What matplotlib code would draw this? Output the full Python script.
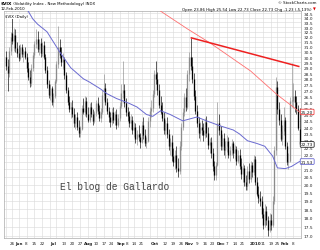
import matplotlib
matplotlib.use("Agg")
import matplotlib.pyplot as plt
import matplotlib.transforms as mtransforms
from matplotlib.ticker import FixedLocator, NullLocator
import numpy as np
import pandas as pd

# ---------------- data ----------------
holidays = ["2009-05-25", "2009-07-03", "2009-09-07", "2009-11-26",
            "2009-12-25", "2010-01-01", "2010-01-18"]
dates = pd.bdate_range("2009-05-19", "2010-02-12")
dates = dates[~dates.isin(pd.to_datetime(holidays))]

opens = [
    30.0, 29.2, 28.5, 30.6, 32.4, 31.6, 32.2, 30.9, 30.4, 29.9,
    31.0, 30.3, 30.6, 30.0, 29.0, 28.2, 27.6, 29.0, 30.2, 31.3,
    31.8, 30.8, 31.4, 30.4, 31.2, 30.0, 28.8, 27.5, 26.6, 27.2,
    26.0, 26.5, 27.8, 29.3, 31.0, 30.2, 29.5, 29.8, 28.3, 27.0,
    26.0, 25.4, 25.6, 25.0, 24.3, 24.8, 24.0, 23.6, 23.9, 25.5,
    25.2, 26.1, 25.0, 24.6, 25.6, 25.0, 24.5, 25.1, 25.9, 25.3,
    24.7, 25.2, 26.6, 27.2, 26.0, 25.3, 24.8, 24.4, 25.2, 24.6,
    25.0, 24.2, 24.7, 25.7, 26.8, 27.0, 25.9, 25.2, 24.9, 24.3,
    24.6, 23.8, 24.0, 23.1, 23.5, 23.3, 22.9, 24.2, 23.4, 22.8,
    23.0, 24.5, 25.3, 25.5, 26.7, 28.4, 28.0, 27.0, 25.8, 25.2,
    24.7, 23.8, 24.3, 23.5, 22.6, 22.9, 21.9, 21.5, 22.0, 21.1,
    20.9, 22.6, 24.0, 25.2, 26.4, 25.6, 28.4, 30.0, 29.2, 28.0,
    26.5, 25.3, 24.3, 23.6, 24.0, 23.8, 23.4, 24.4, 23.6, 22.7,
    22.9, 22.1, 21.2, 20.6, 21.3, 24.3, 23.8, 22.6, 23.2, 22.3,
    22.6, 23.0, 22.0, 22.3, 22.8, 22.1, 22.4, 21.6, 22.0, 21.2,
    20.7, 21.1, 20.2, 19.9, 20.9, 20.4, 21.3, 20.8, 21.7, 20.2,
    19.4, 19.2, 19.0, 18.2, 17.6, 18.4, 17.9, 17.3, 17.9, 17.6,
    19.0, 22.3, 27.3, 25.4, 24.6, 23.1, 23.7, 24.6, 22.6, 21.5,
    21.6, 26.1, 26.1, 26.5, 26.0, 25.4, 23.86,
]
highs = [
    30.6, 29.8, 31.0, 32.5, 34.3, 32.9, 32.8, 31.5, 31.2, 31.3,
    31.3, 30.8, 31.0, 30.4, 29.5, 28.8, 29.3, 30.5, 31.6, 32.8,
    32.6, 31.8, 31.9, 31.5, 31.6, 30.3, 29.2, 27.9, 27.5, 27.4,
    26.8, 28.0, 29.6, 33.1, 31.8, 31.0, 30.4, 30.0, 28.6, 27.3,
    26.5, 26.0, 26.2, 25.5, 25.0, 25.2, 24.6, 24.1, 25.8, 26.3,
    26.5, 26.4, 25.6, 25.9, 26.0, 25.4, 25.3, 26.2, 26.4, 25.8,
    25.5, 27.0, 28.4, 27.6, 26.3, 25.6, 25.2, 25.5, 25.6, 25.3,
    25.4, 25.0, 26.0, 27.5, 29.6, 27.5, 26.3, 25.6, 25.3, 25.0,
    24.9, 24.4, 24.3, 23.8, 24.2, 23.6, 24.5, 24.8, 23.9, 23.3,
    24.8, 25.6, 26.2, 27.0, 28.8, 29.6, 28.6, 27.5, 26.5, 26.0,
    25.2, 24.6, 24.8, 23.9, 23.2, 23.4, 22.5, 22.3, 22.6, 21.8,
    23.0, 24.3, 25.5, 26.8, 27.2, 28.8, 30.5, 31.9, 30.0, 28.5,
    27.0, 25.8, 24.8, 24.4, 24.6, 24.3, 24.7, 24.9, 24.0, 23.2,
    23.3, 22.5, 21.6, 21.5, 26.0, 25.0, 24.1, 23.5, 23.6, 23.0,
    23.4, 23.3, 22.6, 23.1, 23.0, 22.7, 22.6, 22.3, 22.4, 21.8,
    21.4, 21.3, 20.6, 21.2, 21.4, 21.6, 21.5, 22.0, 21.9, 20.5,
    19.9, 19.6, 19.3, 18.6, 18.8, 18.7, 18.1, 18.3, 18.2, 19.3,
    22.6, 28.2, 27.8, 26.0, 25.0, 24.2, 25.6, 24.8, 22.9, 22.1,
    26.4, 29.4, 27.6, 27.0, 26.5, 25.8, 25.54,
]
lows = [
    28.8, 26.9, 28.2, 30.2, 31.3, 30.6, 30.5, 30.0, 29.6, 29.7,
    30.0, 29.5, 29.8, 28.6, 27.9, 27.3, 27.4, 28.7, 29.9, 30.9,
    30.5, 30.2, 30.0, 30.1, 29.8, 28.5, 27.2, 26.3, 26.2, 25.8,
    25.6, 26.3, 27.6, 29.0, 29.9, 29.2, 28.9, 28.0, 26.8, 25.8,
    25.2, 24.7, 24.8, 24.0, 23.9, 23.8, 23.3, 23.3, 23.8, 25.0,
    24.9, 24.8, 24.4, 24.4, 24.8, 24.2, 24.3, 24.9, 25.0, 24.5,
    24.4, 25.0, 26.2, 25.8, 25.0, 24.4, 24.0, 24.2, 24.3, 24.2,
    23.9, 24.0, 24.5, 25.5, 26.3, 25.6, 24.9, 24.5, 24.0, 23.9,
    23.5, 23.3, 22.8, 22.7, 23.0, 22.5, 22.8, 23.1, 22.6, 22.5,
    22.9, 24.0, 24.8, 25.2, 26.4, 27.5, 26.6, 25.5, 25.0, 24.5,
    23.5, 23.4, 23.2, 22.3, 22.0, 21.6, 21.2, 21.0, 20.8, 20.5,
    20.7, 22.3, 23.8, 24.9, 25.3, 25.4, 27.8, 28.8, 27.6, 26.2,
    25.0, 24.0, 23.2, 23.0, 23.4, 23.0, 23.2, 23.3, 22.4, 22.1,
    21.8, 20.9, 20.3, 20.3, 21.2, 23.4, 22.3, 22.3, 22.0, 21.8,
    22.2, 21.8, 21.6, 22.0, 21.8, 21.7, 21.3, 21.4, 21.0, 20.4,
    20.2, 19.9, 19.7, 19.7, 20.1, 20.2, 20.5, 20.6, 20.0, 19.3,
    18.9, 18.7, 18.0, 17.4, 17.5, 17.6, 17.0, 17.2, 17.3, 17.5,
    18.8, 22.0, 25.0, 24.2, 23.0, 22.7, 23.4, 22.4, 21.3, 21.0,
    21.5, 25.6, 25.5, 25.2, 25.0, 23.8, 22.73,
]
closes = [
    29.2, 28.5, 30.6, 32.0, 31.6, 32.2, 30.9, 30.4, 29.9, 31.0,
    30.3, 30.6, 30.0, 29.0, 28.2, 27.6, 29.0, 30.2, 31.3, 31.8,
    30.8, 31.4, 30.4, 31.2, 30.0, 28.8, 27.5, 26.6, 27.2, 26.0,
    26.5, 27.8, 29.3, 31.0, 30.2, 29.5, 29.8, 28.3, 27.0, 26.0,
    25.4, 25.6, 25.0, 24.3, 24.8, 24.0, 23.6, 23.9, 25.5, 25.2,
    26.1, 25.0, 24.6, 25.6, 25.0, 24.5, 25.1, 25.9, 25.3, 24.7,
    25.2, 26.6, 27.2, 26.0, 25.3, 24.8, 24.4, 25.2, 24.6, 25.0,
    24.2, 24.7, 25.7, 26.8, 27.0, 25.9, 25.2, 24.9, 24.3, 24.6,
    23.8, 24.0, 23.1, 23.5, 23.3, 22.9, 24.2, 23.4, 22.8, 23.0,
    24.5, 25.3, 25.5, 26.7, 28.4, 28.0, 27.0, 25.8, 25.2, 24.7,
    23.8, 24.3, 23.5, 22.6, 22.9, 21.9, 21.5, 22.0, 21.1, 20.9,
    22.6, 24.0, 25.2, 26.4, 25.6, 28.4, 30.0, 29.2, 28.0, 26.5,
    25.3, 24.3, 23.6, 24.0, 23.8, 23.4, 24.4, 23.6, 22.7, 22.9,
    22.1, 21.2, 20.6, 21.3, 24.3, 23.8, 22.6, 23.2, 22.3, 22.6,
    23.0, 22.0, 22.3, 22.8, 22.1, 22.4, 21.6, 22.0, 21.2, 20.7,
    21.1, 20.2, 19.9, 20.9, 20.4, 21.3, 20.8, 21.7, 20.2, 19.4,
    19.2, 19.0, 18.2, 17.6, 18.4, 17.9, 17.3, 17.9, 17.6, 19.0,
    22.3, 27.3, 25.4, 24.6, 23.1, 23.7, 24.6, 22.6, 21.5, 21.6,
    26.1, 26.1, 26.5, 26.0, 25.4, 23.96, 22.73,
]

# 50-day moving average (blue), sampled
ma50_dates = ["2009-06-01", "2009-06-09", "2009-06-12", "2009-06-17", "2009-06-25",
              "2009-07-08", "2009-07-17", "2009-07-29", "2009-08-04", "2009-08-13",
              "2009-08-19", "2009-08-27", "2009-09-09", "2009-09-16", "2009-09-24",
              "2009-09-30", "2009-10-07", "2009-10-15", "2009-10-27", "2009-11-09",
              "2009-11-17", "2009-12-01", "2009-12-11", "2009-12-17", "2009-12-24",
              "2010-01-05", "2010-01-12", "2010-01-20", "2010-01-25", "2010-02-01",
              "2010-02-05", "2010-02-12"]
ma50_values = [35.6, 34.72, 33.85, 33.3, 32.5,
               30.5, 29.0, 28.0, 27.7, 27.1,
               26.7, 26.3, 25.9, 25.6, 25.0,
               24.85, 25.3, 25.0, 24.5, 24.8,
               24.5, 24.1, 23.8, 23.5, 23.0,
               22.8, 22.6, 21.9, 21.1, 21.05,
               21.2, 21.53]

# 200-day moving average (thin red), sampled
ma200_dates = ["2009-10-01", "2009-10-07", "2009-10-30", "2009-11-20",
               "2009-12-29", "2010-01-25", "2010-02-04", "2010-02-12"]
ma200_values = [35.3, 34.7, 32.8, 31.3, 28.7, 26.6, 25.8, 25.2]

# trend line (thick red)
trend_dates = ["2009-11-03", "2010-02-12"]
trend_values = [31.9, 29.1]

tick_dates = ["2009-05-26", "2009-06-01", "2009-06-08", "2009-06-15", "2009-06-22",
              "2009-07-01", "2009-07-13", "2009-07-20", "2009-07-27", "2009-08-03",
              "2009-08-10", "2009-08-17", "2009-08-24", "2009-09-01", "2009-09-08",
              "2009-09-14", "2009-09-21", "2009-10-01", "2009-10-12", "2009-10-19",
              "2009-10-26", "2009-11-02", "2009-11-09", "2009-11-16", "2009-11-23",
              "2009-12-01", "2009-12-07", "2009-12-14", "2009-12-21", "2010-01-04",
              "2010-01-11", "2010-01-19", "2010-01-25", "2010-02-01", "2010-02-08"]
tick_labels = ["26", "Jun", "8", "15", "22", "Jul", "13", "20", "27", "Aug",
               "10", "17", "24", "Sep", "8", "14", "21", "Oct", "12", "19",
               "26", "Nov", "9", "16", "23", "Dec", "7", "14", "21", "2010",
               "11", "19", "25", "Feb", "8"]
bold_labels = {"Jun", "Jul", "Aug", "Sep", "Oct", "Nov", "Dec", "2010", "Feb"}

y_ticks = [17.0, 17.5, 18.0, 18.5, 19.0, 19.5, 20.0, 20.5, 21.0, 21.5, 22.0, 22.5,
           23.0, 23.5, 24.0, 24.5, 25.0, 25.5, 26.0, 26.5, 27.0, 27.5, 28.0, 28.5,
           29.0, 29.5, 30.0, 30.5, 31.0, 31.5, 32.0, 32.5, 33.0, 33.5, 34.0, 34.5]

tag_values = [25.2, 22.73, 21.53]
tag_texts = ["25.20", "22.73", "21.53"]

# ---------------- figure ----------------
W, H = 320, 251
fig = plt.figure(figsize=(W / 100, H / 100), dpi=100)
fig.patch.set_facecolor("white")
L, R, T, B = 4, 301, 12, 239
ax = fig.add_axes([L / W, 1 - B / H, (R - L) / W, (B - T) / H])
ax.set_yscale("log")
ax.set_xlim(-1.27, 186.95)
ax.set_ylim(16.89, 34.72)

idx = np.arange(len(dates))
pos = {d: i for i, d in enumerate(dates)}
def to_idx(lst):
    return [pos[pd.Timestamp(d)] for d in lst]

# grid
grid_c = "#d9d9d9"
for yv in y_ticks:
    ax.axhline(yv, color=grid_c, lw=0.4, zorder=0)
wk = pd.Series(idx, index=dates).groupby(dates.to_period("W")).min().values
for xv in wk:
    ax.axvline(xv, color=grid_c, lw=0.4, zorder=0)

# candles
o = np.array(opens); h = np.array(highs); l = np.array(lows); c = np.array(closes)
cols = np.where(c < o, "#000000", "#8c8c8c")
ax.vlines(idx, l, h, colors=cols, lw=0.45, zorder=3)
bot = np.minimum(o, c); top = np.maximum(o, c)
top = np.where(top / bot < 1.004, bot * 1.004, top)
ax.vlines(idx, bot, top, colors=cols, lw=0.95, zorder=3)

# overlays
ax.plot(to_idx(ma50_dates), ma50_values, color="#6a6ad0", lw=0.7, zorder=4)
ax.plot(to_idx(ma200_dates), ma200_values, color="#ff6f6f", lw=0.6, zorder=4)
ax.plot(to_idx(trend_dates), trend_values, color="#ee2020", lw=1.1, zorder=5,
        solid_capstyle="butt")

# axes styling
for s in ax.spines.values():
    s.set_color("#aaaaaa")
    s.set_linewidth(0.5)
ax.yaxis.tick_right()
ax.yaxis.set_major_locator(FixedLocator(y_ticks))
ax.yaxis.set_minor_locator(NullLocator())
ax.set_yticklabels([f"{v:.1f}" for v in y_ticks])
ax.tick_params(axis="y", length=0, pad=2, labelsize=3.1, labelcolor="#222222")
ax.set_xticks(to_idx(tick_dates))
ax.set_xticklabels(tick_labels)
ax.tick_params(axis="x", length=0, pad=2.5, labelsize=3.0, labelcolor="#222222")
for t in ax.get_xticklabels():
    if t.get_text() in bold_labels:
        t.set_fontweight("bold")

# right-side value tags (drawn over the axis labels, as in the original)
trans = mtransforms.blended_transform_factory(ax.transAxes, ax.transData)
for val, txt, col in zip(tag_values, tag_texts, ["#ee2020", "#000000", "#4a4ac8"]):
    ax.text(1.0, val, txt, transform=trans, fontsize=3.1, ha="left", va="center",
            color="#111111",
            bbox=dict(boxstyle="round,pad=0.18", fc="white", ec=col, lw=0.5), zorder=6)

# header texts
def ftext(x, y, s, **kw):
    return fig.text(x / W, 1 - y / H, s, va="center", **kw)

t1 = ftext(1, 3.5, "$VIX", fontsize=3.2, fontweight="bold")
ax.annotate(" (Volatility Index - New Methodology) INDX", xy=(1, 0.5), xycoords=t1,
            va="center", ha="left", fontsize=2.8, annotation_clip=False)
ftext(1, 9, "12-Feb-2010", fontsize=2.8)
fig.text(317 / W, 1 - 3.5 / H, "© StockCharts.com", fontsize=2.8, ha="right", va="center")
ftext(312, 9.5, "Open 23.86 High 25.54 Low 22.73 Close 22.73 Chg -1.23 (-5.13%)",
      fontsize=2.8, ha="right")
ftext(313, 9.5, "\u25bc", fontsize=2.6, color="#dd0000")
ax.text(0.005, 0.985, "$VIX (Daily)", transform=ax.transAxes, fontsize=2.8,
        va="top", ha="left", zorder=7,
        bbox=dict(boxstyle="square,pad=0.2", fc="white", ec="none"))

# watermark
wm_x = (60 - L) / (R - L)
ax.text(wm_x, 19.95, "El blog de Gallardo", fontsize=6.9, family="Liberation Mono",
        color="#444444", ha="left", va="center", zorder=7,
        transform=mtransforms.blended_transform_factory(ax.transAxes, ax.transData))

fig.savefig("out.png", dpi=100)
